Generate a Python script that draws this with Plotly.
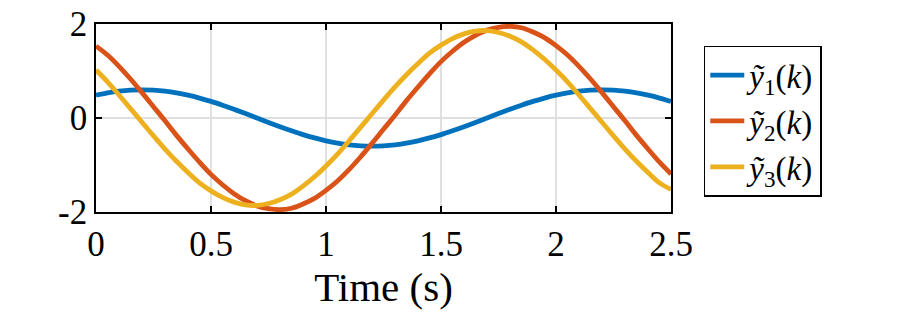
import plotly.graph_objects as go

t = [0.0, 0.05, 0.1, 0.15, 0.2, 0.25, 0.3, 0.35, 0.4, 0.45,
     0.5, 0.55, 0.6, 0.65, 0.7, 0.75, 0.8, 0.85, 0.9, 0.95,
     1.0, 1.05, 1.1, 1.15, 1.2, 1.25, 1.3, 1.35, 1.4, 1.45,
     1.5, 1.55, 1.6, 1.65, 1.7, 1.75, 1.8, 1.85, 1.9, 1.95,
     2.0, 2.05, 2.1, 2.15, 2.2, 2.25, 2.3, 2.35, 2.4, 2.45, 2.5]

y1 = [0.485, 0.535, 0.571, 0.593, 0.60, 0.593, 0.571, 0.535, 0.485, 0.424,
      0.353, 0.272, 0.185, 0.094, 0.0, -0.094, -0.185, -0.272, -0.353, -0.424,
      -0.485, -0.535, -0.571, -0.593, -0.60, -0.593, -0.571, -0.535, -0.485, -0.424,
      -0.353, -0.272, -0.185, -0.094, 0.0, 0.094, 0.185, 0.272, 0.353, 0.424,
      0.485, 0.535, 0.571, 0.593, 0.60, 0.593, 0.571, 0.535, 0.485, 0.424, 0.353]

y2 = [1.53, 1.34, 1.10, 0.83, 0.54, 0.24, -0.06, -0.37, -0.66, -0.94,
      -1.20, -1.42, -1.61, -1.76, -1.87, -1.93, -1.95, -1.92, -1.83, -1.71,
      -1.54, -1.34, -1.10, -0.83, -0.54, -0.24, 0.06, 0.37, 0.66, 0.94,
      1.20, 1.42, 1.61, 1.76, 1.87, 1.93, 1.95, 1.92, 1.83, 1.71,
      1.54, 1.34, 1.10, 0.83, 0.54, 0.24, -0.06, -0.37, -0.66, -0.94, -1.19]

y3 = [1.02, 0.77, 0.49, 0.20, -0.09, -0.38, -0.66, -0.92, -1.16, -1.38,
      -1.55, -1.69, -1.79, -1.85, -1.86, -1.82, -1.74, -1.62, -1.45, -1.25,
      -1.02, -0.77, -0.49, -0.20, 0.09, 0.38, 0.66, 0.92, 1.16, 1.38,
      1.55, 1.69, 1.79, 1.85, 1.86, 1.82, 1.74, 1.62, 1.45, 1.25,
      1.02, 0.77, 0.49, 0.20, -0.09, -0.38, -0.66, -0.92, -1.16, -1.38, -1.52]

names = ["<i>ỹ</i><sub>1</sub>(<i>k</i>)",
         "<i>ỹ</i><sub>2</sub>(<i>k</i>)",
         "<i>ỹ</i><sub>3</sub>(<i>k</i>)"]
colors = ["#0072BD", "#D95319", "#EDB120"]

x_tickvals = [0, 0.5, 1, 1.5, 2, 2.5]
x_ticktext = ["0", "0.5", "1", "1.5", "2", "2.5"]
y_tickvals = [-2, 0, 2]
y_ticktext = ["-2", "0", "2"]

FONT = "Liberation Serif, Times New Roman, serif"

fig = go.Figure()
for i, (ys, nm, c) in enumerate(zip([y1, y2, y3], names, colors)):
    fig.add_trace(go.Scatter(x=t, y=ys, mode="lines", name=nm,
                             line=dict(color=c, width=4.8, shape="spline"),
                             legendgroup=f"g{i}"))

fig.update_layout(
    width=897, height=315,
    margin=dict(l=96, r=226, t=24, b=103),
    paper_bgcolor="white", plot_bgcolor="white",
    font=dict(family=FONT, size=34, color="black"),
    showlegend=True,
    legend=dict(x=1.057, y=0.885, xanchor="left", yanchor="top",
                bordercolor="black", borderwidth=1.5, bgcolor="white",
                font=dict(family=FONT, size=33, color="black"),
                tracegroupgap=0, itemwidth=34),
    xaxis=dict(range=[0, 2.5], tickvals=x_tickvals, ticktext=x_ticktext,
               ticks="inside", ticklen=6, tickwidth=1.5, tickcolor="black",
               showline=True, linecolor="black", linewidth=1.5, mirror="ticks",
               showgrid=True, gridcolor="#e0e0e0", gridwidth=1.5,
               zeroline=False, automargin=False, ticklabeloverflow="allow",
               title=dict(text="Time (s)", font=dict(family=FONT, size=41),
                          standoff=4),
               tickfont=dict(family=FONT, size=35)),
    yaxis=dict(range=[-2, 2], tickvals=y_tickvals, ticktext=y_ticktext,
               ticks="inside", ticklen=6, tickwidth=1.5, tickcolor="black",
               showline=True, linecolor="black", linewidth=1.5, mirror="ticks",
               showgrid=True, gridcolor="#e0e0e0", gridwidth=1.5,
               zeroline=False, automargin=False, ticklabelstandoff=0,
               ticklabeloverflow="allow",
               tickfont=dict(family=FONT, size=35)),
)

fig.write_html("out.html",
               config={"displayModeBar": False},
               post_script="document.body.style.margin='0';")
